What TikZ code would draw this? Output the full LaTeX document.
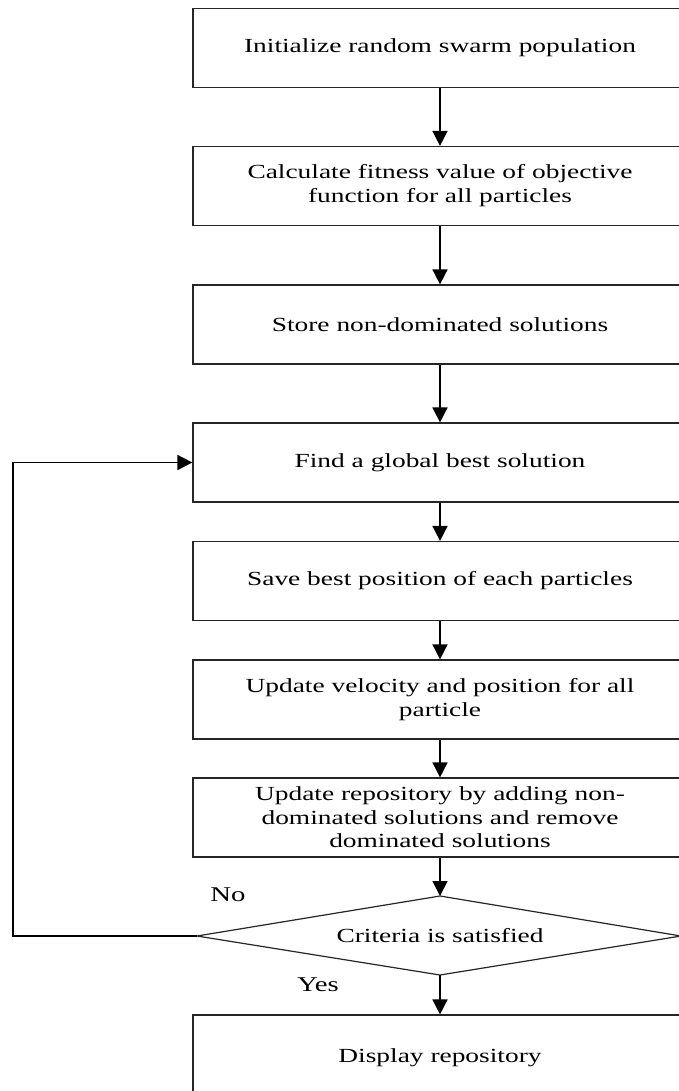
\documentclass[tikz,border=0pt]{standalone}
\usepackage{fontspec}
\setmainfont{Liberation Serif}
\newfontfamily\widefont[FakeStretch=1.37]{Liberation Serif}
\usetikzlibrary{arrows.meta,shapes.geometric}
\begin{document}
\begin{tikzpicture}[x=1pt,y=-1pt,
  stepbox/.style={draw=black!85,line width=1.2pt,fill=white,minimum width=494pt,minimum height=79pt,inner sep=0pt,align=center,font=\widefont\fontsize{20}{24}\selectfont},
  flow/.style={line width=1.6pt,-{Triangle[length=15pt,width=15pt]}},
  lbl/.style={font=\widefont\fontsize{21}{24}\selectfont}]
\useasboundingbox (0,0) rectangle (679,1091);
\node[stepbox] (b1) at (440,48) {Initialize random swarm population};
\node[stepbox] (b2) at (440,186) {Calculate fitness value of objective\\function for all particles};
\node[stepbox] (b3) at (440,324.5) {Store non-dominated solutions};
\node[stepbox] (b4) at (440,462.5) {Find a global best solution};
\node[stepbox] (b5) at (440,581) {Save best position of each particles};
\node[stepbox] (b6) at (440,699.5) {Update velocity and position for all\\particle};
\node[stepbox,font=\widefont\fontsize{20}{23.5}\selectfont] (b7) at (440,817.5) {Update repository by adding non-\\dominated solutions and remove\\dominated solutions};
\draw[draw=black!85,line width=1.2pt,fill=white] (197,936) coordinate (dw) -- (440,896) coordinate (dn) -- (681,936) -- (440,975) coordinate (ds) -- cycle;
\node[font=\widefont\fontsize{20}{24}\selectfont] (d) at (440,936) {Criteria is satisfied};
\node[stepbox,minimum height=86pt] (b8) at (440,1058) {Display repository};
\node[lbl] (no) at (228,895) {No};
\node[lbl] (yes) at (318,985) {Yes};
\coordinate (c1) at (13,936);
\coordinate (c2) at (13,462.5);
\draw[flow] (b1.south) -- (b2.north);
\draw[flow] (b2.south) -- (b3.north);
\draw[flow] (b3.south) -- (b4.north);
\draw[flow] (b4.south) -- (b5.north);
\draw[flow] (b5.south) -- (b6.north);
\draw[flow] (b6.south) -- (b7.north);
\draw[flow] (b7.south) -- (dn);
\draw[flow] (ds) -- (b8.north);
\draw[flow] (dw) -- (c1) -- (c2) -- (b4.west);
\end{tikzpicture}
\end{document}
